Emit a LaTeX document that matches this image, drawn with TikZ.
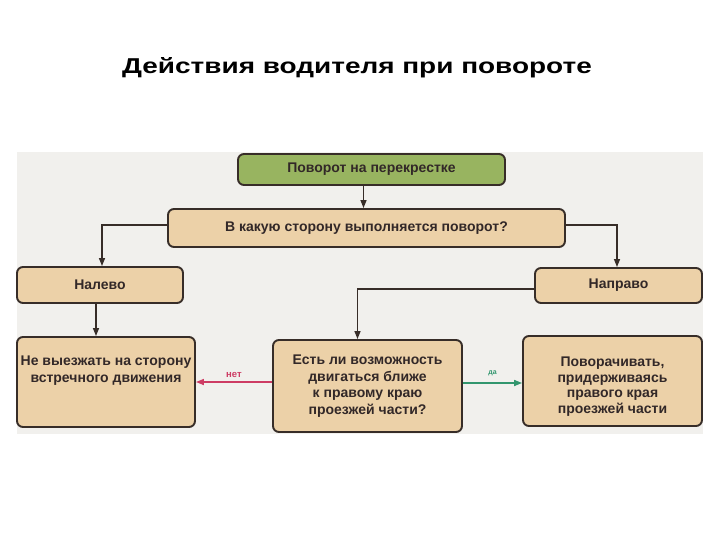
\documentclass[tikz,border=0pt]{standalone}
\usepackage{fontspec}
\setmainfont{Liberation Sans}
\newfontfamily\titlefont[FakeStretch=1.3]{Liberation Sans}
\usetikzlibrary{arrows.meta,calc}
\definecolor{boxfill}{RGB}{236,209,168}
\definecolor{greenfill}{RGB}{152,180,96}
\definecolor{edge}{RGB}{55,45,40}
\definecolor{txt}{RGB}{50,40,40}
\definecolor{scan}{RGB}{241,240,237}
\definecolor{noarrow}{RGB}{205,60,100}
\definecolor{yesarrow}{RGB}{50,150,110}
\tikzset{
  box/.style={draw=edge, line width=1.9pt, fill=boxfill, rounded corners=6pt,
    text=txt, font=\fontsize{14}{16.5}\selectfont\bfseries, align=center, inner sep=0pt},
  arr/.style={draw=edge, line width=1.3pt, -{Triangle[length=8pt,width=6pt]}},
  lab/.style={font=\bfseries, inner sep=1pt}
}
\begin{document}
\begin{tikzpicture}[x=1pt,y=-1pt]
\useasboundingbox (0,0) rectangle (720,540);
\fill[scan] (17,152) rectangle (703,434);
\node[font=\titlefont\fontsize{21.5}{26}\selectfont\bfseries] (title) at (357,68) {Действия водителя при повороте};

\node[box, fill=greenfill, minimum width=267pt, minimum height=31pt] (start) at (371.5,169.5) {Поворот на перекрестке};
\node[box, minimum width=397pt, minimum height=38pt] (q) at (366.5,228) {В какую сторону выполняется поворот?};
\node[box, minimum width=166pt, minimum height=36pt] (left) at (100,285) {Налево};
\node[box, minimum width=167pt, minimum height=35pt] (right) at (618.5,285.5) {Направо};
\node[box, minimum width=178pt, minimum height=90pt] (nv) at (106,382)
  {\parbox[t][78pt][t]{176pt}{\centering\vspace*{13pt}Не выезжать на сторону\\встречного движения}};
\node[box, minimum width=189pt, minimum height=92pt, font=\fontsize{14}{16.6}\selectfont\bfseries] (est) at (367.5,386)
  {Есть ли возможность\\двигаться ближе\\к правому краю\\проезжей части?};
\node[box, minimum width=179pt, minimum height=90pt, font=\fontsize{14}{15.5}\selectfont\bfseries] (pov) at (612.5,381)
  {\parbox[t][78pt][t]{177pt}{\centering\vspace*{15pt}Поворачивать,\\придерживаясь\\правого края\\проезжей части}};

\draw[arr] ([xshift=-8pt]start.south) -- ([xshift=-8pt]start.south |- q.north);
\draw[arr] ([yshift=3pt]q.west) -| ([xshift=2pt]left.north);
\draw[arr] ([yshift=3pt]q.east) -| ([xshift=-1.5pt]right.north);
\draw[arr] ([xshift=-4pt]left.south) -- ([xshift=-4pt]left.south |- nv.north);
\draw[arr] ([yshift=-3.5pt]right.west) -| ([xshift=-10pt]est.north);
\draw[arr, draw=noarrow, fill=noarrow, line width=1.6pt] ([yshift=4pt]est.west) -- ([yshift=4pt]est.west -| nv.east)
  node[midway, above=3pt, lab, text=noarrow, font=\fontsize{9.5}{10}\selectfont\bfseries] {нет};
\draw[arr, draw=yesarrow, fill=yesarrow, line width=1.6pt] ([yshift=3pt]est.east) -- ([yshift=3pt]est.east -| pov.west)
  node[midway, above=5pt, lab, text=yesarrow, font=\fontsize{7}{8}\selectfont\bfseries] {да};
\end{tikzpicture}
\end{document}
